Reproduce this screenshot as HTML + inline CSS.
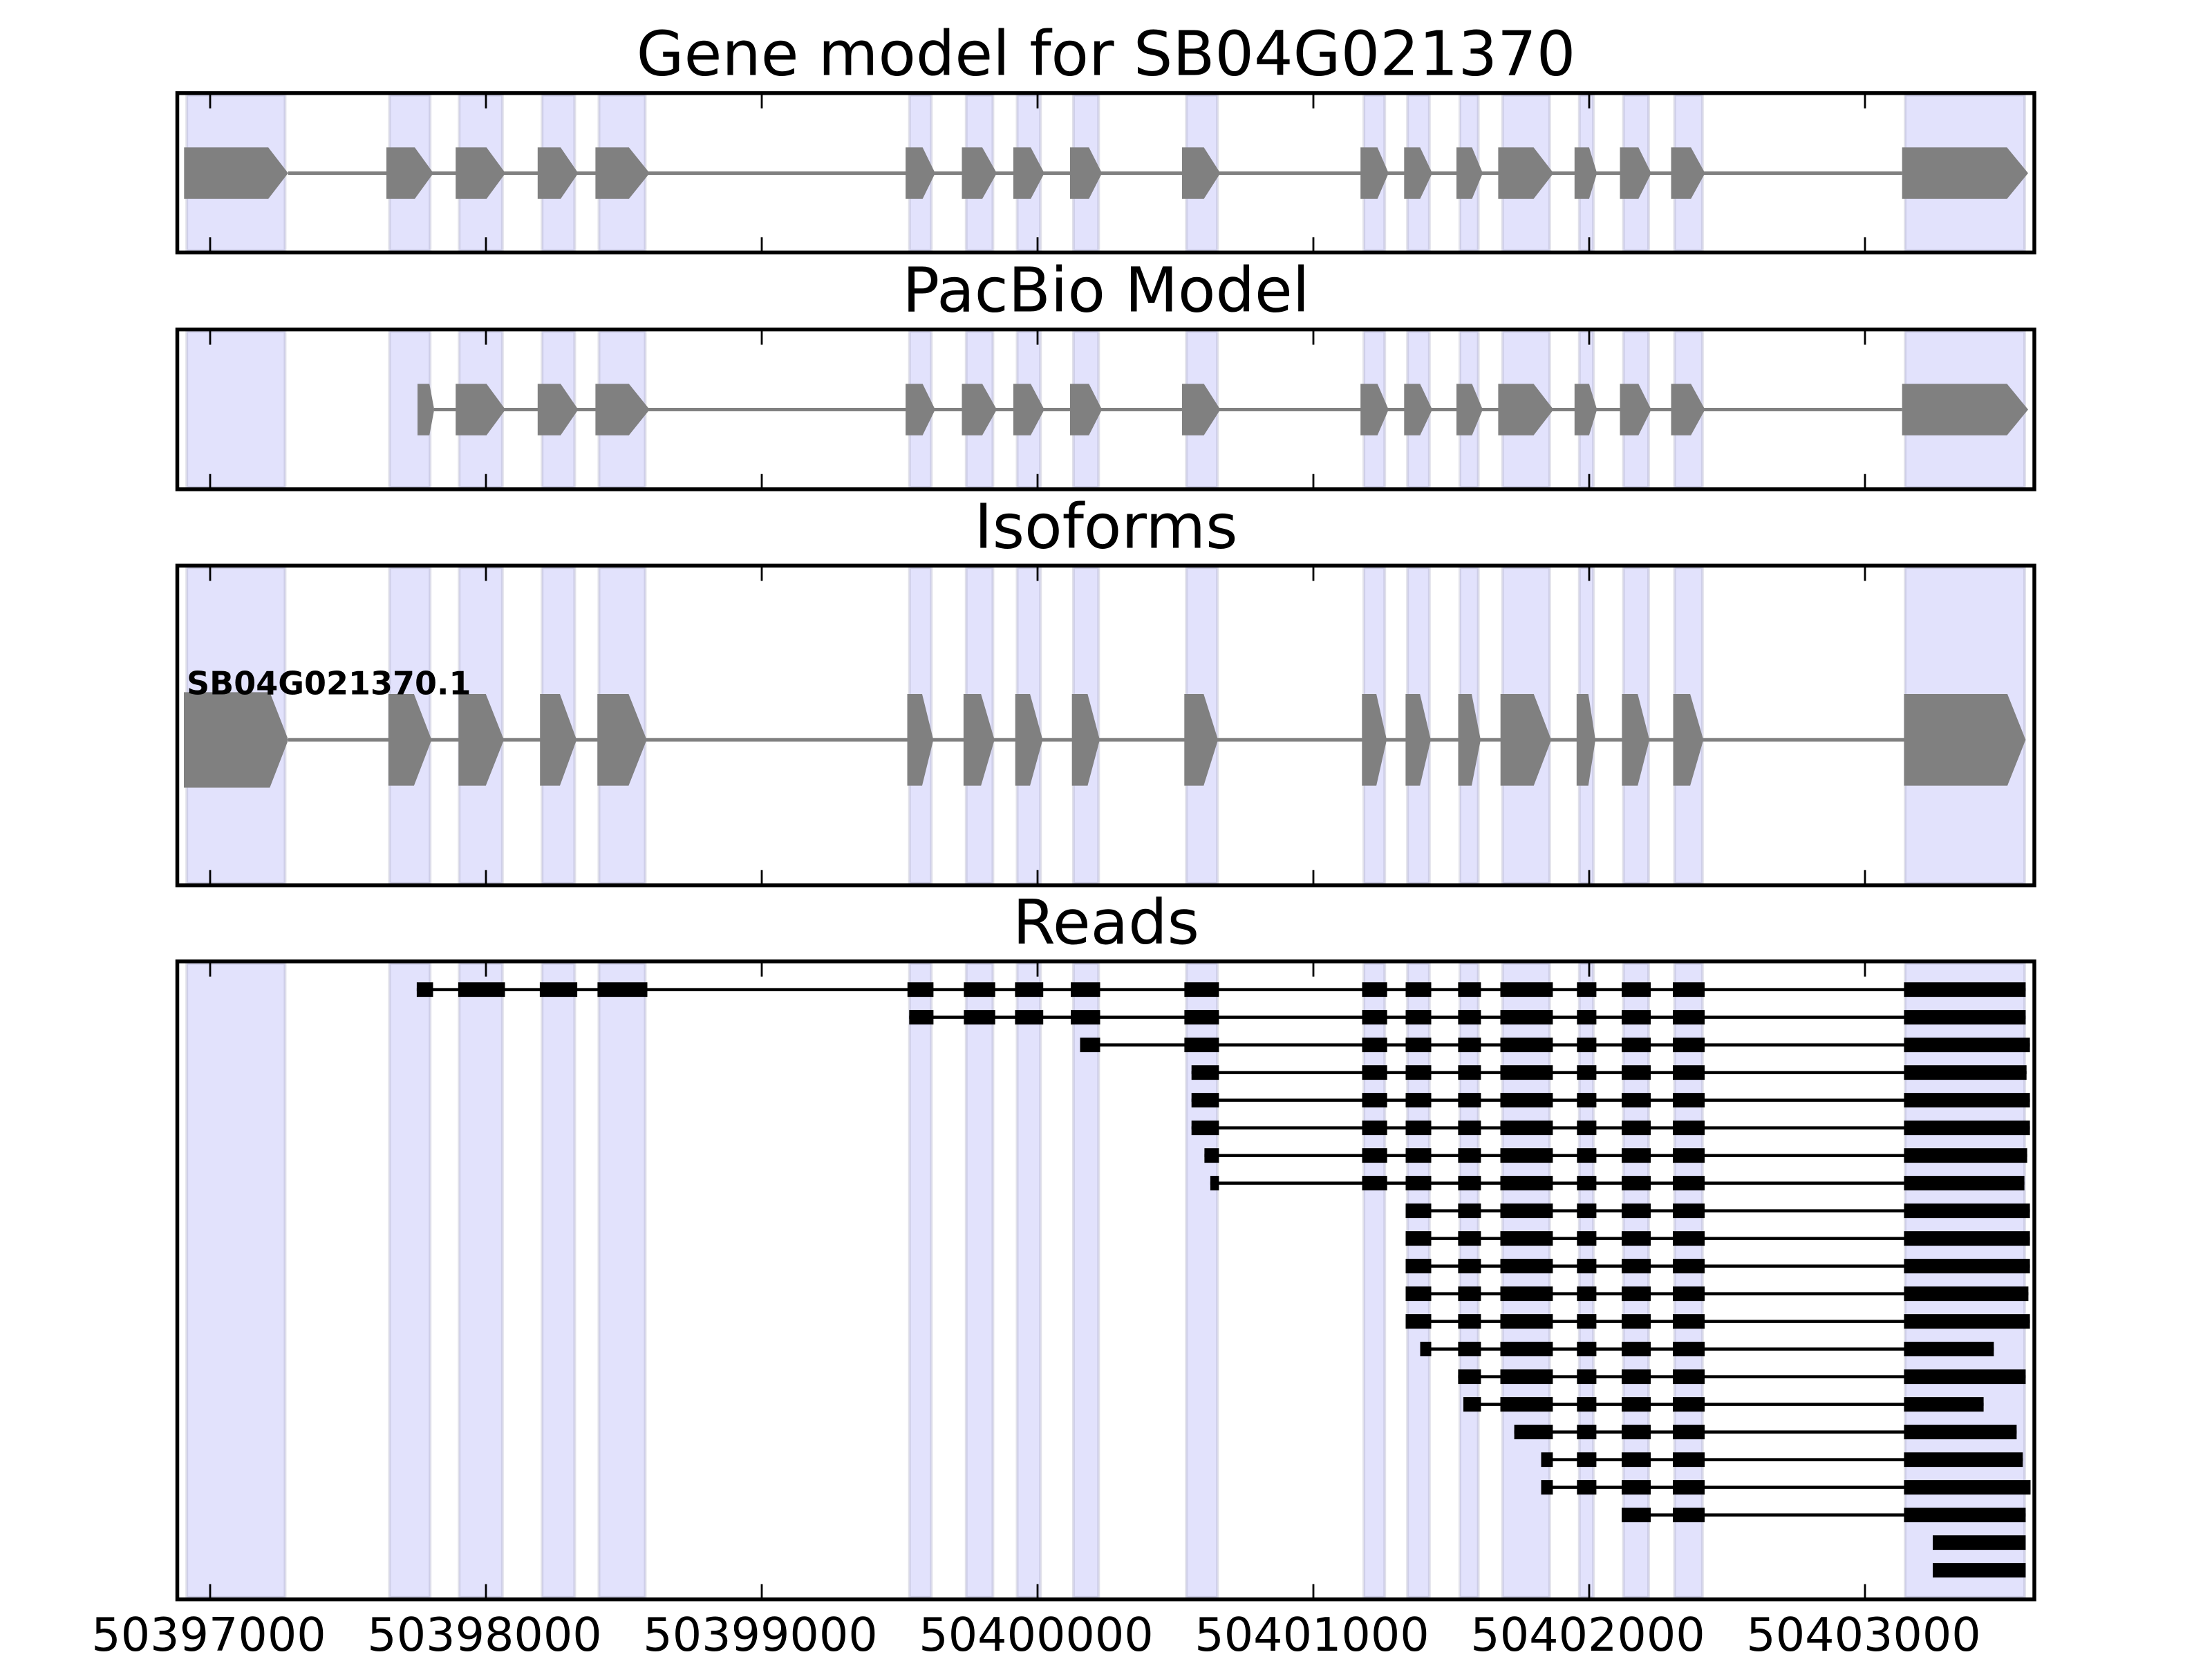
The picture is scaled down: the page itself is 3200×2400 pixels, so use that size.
<!DOCTYPE html>
<html>
<head>
<meta charset="utf-8">
<style>
html,body{margin:0;padding:0;background:#fff;overflow:hidden;}
svg{display:block;}
text{font-family:"DejaVu Sans","Liberation Sans",sans-serif;}
</style>
</head>
<body>
<svg width="3200" height="2400" viewBox="0 0 3200 2400" xmlns="http://www.w3.org/2000/svg">
<defs>
  <g id="sh" fill="#e2e2fc" stroke="rgba(170,170,195,0.35)" stroke-width="4">
    <rect vector-effect="non-scaling-stroke" x="270.2" y="0" width="142.2" height="1"/>
    <rect vector-effect="non-scaling-stroke" x="563.5" y="0" width="58.7" height="1"/>
    <rect vector-effect="non-scaling-stroke" x="664.3" y="0" width="62.5" height="1"/>
    <rect vector-effect="non-scaling-stroke" x="784.2" y="0" width="47.2" height="1"/>
    <rect vector-effect="non-scaling-stroke" x="866.5" y="0" width="66.9" height="1"/>
    <rect vector-effect="non-scaling-stroke" x="1315.7" y="0" width="31.6" height="1"/>
    <rect vector-effect="non-scaling-stroke" x="1397.8" y="0" width="38.6" height="1"/>
    <rect vector-effect="non-scaling-stroke" x="1471.5" y="0" width="33.7" height="1"/>
    <rect vector-effect="non-scaling-stroke" x="1552.9" y="0" width="36.4" height="1"/>
    <rect vector-effect="non-scaling-stroke" x="1716.3" y="0" width="44.9" height="1"/>
    <rect vector-effect="non-scaling-stroke" x="1973.1" y="0" width="30.1" height="1"/>
    <rect vector-effect="non-scaling-stroke" x="2036.2" y="0" width="31.6" height="1"/>
    <rect vector-effect="non-scaling-stroke" x="2112.0" y="0" width="26.6" height="1"/>
    <rect vector-effect="non-scaling-stroke" x="2173.7" y="0" width="68.1" height="1"/>
    <rect vector-effect="non-scaling-stroke" x="2284.8" y="0" width="20.4" height="1"/>
    <rect vector-effect="non-scaling-stroke" x="2348.6" y="0" width="36.4" height="1"/>
    <rect vector-effect="non-scaling-stroke" x="2422.6" y="0" width="40.2" height="1"/>
    <rect vector-effect="non-scaling-stroke" x="2756.1" y="0" width="172.9" height="1"/>
  </g>
  <path id="gm" fill="#808080" d="M659.2,-1H703.8L731.2,0L703.8,1H659.2Z M777.8,-1H811L836.5,0L811,1H777.8Z M861.4,-1H909.8L939.8,0L909.8,1H861.4Z M1310.1,-1H1334.7L1352.9,0L1334.7,1H1310.1Z M1391.5,-1H1421L1442,0L1421,1H1391.5Z M1465.9,-1H1491.1L1510.8,0L1491.1,1H1465.9Z M1548,-1H1575.3L1594.2,0L1575.3,1H1548Z M1710,-1H1741.6L1765.4,0L1741.6,1H1710Z M1968.2,-1H1992.7L2008.8,0L1992.7,1H1968.2Z M2031.3,-1H2054.4L2072,0L2054.4,1H2031.3Z M2107,-1H2129.5L2145,0L2129.5,1H2107Z M2167.4,-1H2218.6L2247.4,0L2218.6,1H2167.4Z M2277.8,-1H2298.9L2310.3,0L2298.9,1H2277.8Z M2343.5,-1H2370.3L2388.8,0L2370.3,1H2343.5Z M2417.5,-1H2446.2L2466.6,0L2446.2,1H2417.5Z M2751.7,-1H2903.4L2934,0L2903.4,1H2751.7Z"/>
  <path id="iso" fill="#808080" d="M561.9,-1H598.9L624.4,0L598.9,1H561.9Z M663.3,-1H702.8L729,0L702.8,1H663.3Z M781.2,-1H810L834.2,0L810,1H781.2Z M864.2,-1H909.4L935.6,0L909.4,1H864.2Z M1312.5,-1H1334L1350.3,0L1334,1H1312.5Z M1393.9,-1H1419.2L1438.7,0L1419.2,1H1393.9Z M1468.7,-1H1490.1L1508.4,0L1490.1,1H1468.7Z M1550.7,-1H1573.4L1591,0L1573.4,1H1550.7Z M1713.3,-1H1741.3L1762.1,0L1741.3,1H1713.3Z M1970.3,-1H1991.1L2006.1,0L1991.1,1H1970.3Z M2033.4,-1H2054.2L2069.9,0L2054.2,1H2033.4Z M2109.5,-1H2129L2142,0L2129,1H2109.5Z M2170.7,-1H2218.8L2244.2,0L2218.8,1H2170.7Z M2280.8,-1H2297.8L2308,0L2297.8,1H2280.8Z M2346.4,-1H2369.2L2386.2,0L2369.2,1H2346.4Z M2420.5,-1H2445.1L2464.3,0L2445.1,1H2420.5Z M2754.5,-1H2904L2930.4,0L2904,1H2754.5Z"/>
  <path id="t16" d="M2346,-10.5h42v21h-42z M2420,-10.5h46v21h-46z"/>
  <g id="t15"><rect x="2281.3" y="-10.5" width="28.1" height="21"/><use href="#t16"/></g>
  <g id="t14"><rect x="2170.5" y="-10.5" width="75.9" height="21"/><use href="#t15"/></g>
  <g id="t13"><rect x="2109.4" y="-10.5" width="33" height="21"/><use href="#t14"/></g>
  <g id="t12"><rect x="2033.5" y="-10.5" width="37" height="21"/><use href="#t13"/></g>
  <g id="t11"><rect x="1970.5" y="-10.5" width="36.2" height="21"/><use href="#t12"/></g>
  <g id="t10"><rect x="1713.4" y="-10.5" width="50" height="21"/><use href="#t11"/></g>
  <g id="t7"><path d="M1394.4,-10.5h45.3v21h-45.3z M1468.4,-10.5h40.8v21h-40.8z M1549,-10.5h42.5v21h-42.5z"/><use href="#t10"/></g>
  <path id="tk" stroke="#000" stroke-width="2.8" fill="none" d="M304,0v22 M703,0v22 M1102,0v22 M1501,0v22 M1900,0v22 M2299,0v22 M2698,0v22"/>
</defs>

<rect width="3200" height="2400" fill="#ffffff"/>

<!-- shading -->
<use href="#sh" transform="translate(0,137.5) scale(1,225)"/>
<use href="#sh" transform="translate(0,479.4) scale(1,225.6)"/>
<use href="#sh" transform="translate(0,821.1) scale(1,456.8)"/>
<use href="#sh" transform="translate(0,1393.6) scale(1,917.3)"/>

<!-- Panel 1 -->
<line x1="416.8" y1="250.5" x2="2751.7" y2="250.5" stroke="#808080" stroke-width="5"/>
<g transform="translate(0,250.5) scale(1,37.3)" fill="#808080">
  <path d="M266.3,-1H388.1L416.8,0L388.1,1H266.3Z M559,-1H600L627,0L600,1H559Z"/>
  <use href="#gm"/>
</g>

<!-- Panel 2 -->
<line x1="628" y1="592.5" x2="2751.7" y2="592.5" stroke="#808080" stroke-width="5"/>
<g transform="translate(0,592.5) scale(1,37.2)" fill="#808080">
  <path d="M604,-1H621.2L628.2,0L621.2,1H604Z"/>
  <use href="#gm"/>
</g>

<!-- Panel 3 -->
<line x1="417" y1="1070.3" x2="2754.5" y2="1070.3" stroke="#808080" stroke-width="5"/>
<polygon fill="#808080" points="266,1001.4 390.3,1001.4 417.1,1070.3 390.3,1139.5 266,1139.5"/>
<use href="#iso" transform="translate(0,1070.3) scale(1,66.35)"/>
<text x="270" y="1004.5" font-size="46" font-weight="bold" fill="#000">SB04G021370.1</text>

<!-- Panel 4: reads -->
<path stroke="#000" stroke-width="4.5" fill="none" d="M602.9,1431.6H2930.4 M1315.3,1471.6H2930.4 M1562.5,1511.6H2936.6 M1723.7,1551.6H2931.7 M1723.7,1591.6H2936.6 M1723.7,1631.6H2936.6 M1742.4,1671.6H2932.6 M1750.9,1711.6H2928.6 M2033.5,1751.6H2936.6 M2033.5,1791.6H2936.6 M2033.5,1831.6H2936.6 M2033.5,1871.6H2934.4 M2033.5,1911.6H2936.6 M2054.5,1951.6H2884.4 M2109.4,1991.6H2930.4 M2117,2031.6H2869.6 M2190.6,2071.6H2917.4 M2229.5,2111.6H2926.3 M2229.5,2151.6H2937.5 M2346,2191.6H2930.4"/>
<g fill="#000">
  <path d="M602.9,1421.1h23.6v21h-23.6z M662.9,1421.1h67.6v21h-67.6z M780.9,1421.1h54.2v21h-54.2z M864.4,1421.1h72.1v21h-72.1z M1312.8,1421.1h37.6v21h-37.6z"/>
  <use href="#t7" y="1431.6"/>
  <rect x="1315.3" y="1461.1" width="35.1" height="21"/>
  <use href="#t7" y="1471.6"/>
  <rect x="1562.5" y="1501.1" width="29" height="21"/>
  <use href="#t10" y="1511.6"/>
  <path d="M1723.7,1541.1h39.7v21h-39.7z M1723.7,1581.1h39.7v21h-39.7z M1723.7,1621.1h39.7v21h-39.7z M1742.4,1661.1h21v21h-21z M1750.9,1701.1h12.5v21h-12.5z"/>
  <use href="#t11" y="1551.6"/>
  <use href="#t11" y="1591.6"/>
  <use href="#t11" y="1631.6"/>
  <use href="#t11" y="1671.6"/>
  <use href="#t11" y="1711.6"/>
  <use href="#t12" y="1751.6"/>
  <use href="#t12" y="1791.6"/>
  <use href="#t12" y="1831.6"/>
  <use href="#t12" y="1871.6"/>
  <use href="#t12" y="1911.6"/>
  <rect x="2054.5" y="1941.1" width="16" height="21"/>
  <use href="#t13" y="1951.6"/>
  <use href="#t13" y="1991.6"/>
  <rect x="2117" y="2021.1" width="25.4" height="21"/>
  <use href="#t14" y="2031.6"/>
  <rect x="2190.6" y="2061.1" width="55.8" height="21"/>
  <use href="#t15" y="2071.6"/>
  <path d="M2229.5,2101.1h16.9v21h-16.9z M2229.5,2141.1h16.9v21h-16.9z"/>
  <use href="#t15" y="2111.6"/>
  <use href="#t15" y="2151.6"/>
  <use href="#t16" y="2191.6"/>
  <path d="M2754.5,1421.1H2930.4v21H2754.5z M2754.5,1461.1H2930.4v21H2754.5z M2754.5,1501.1H2936.6v21H2754.5z M2754.5,1541.1H2931.7v21H2754.5z M2754.5,1581.1H2936.6v21H2754.5z M2754.5,1621.1H2936.6v21H2754.5z M2754.5,1661.1H2932.6v21H2754.5z M2754.5,1701.1H2928.6v21H2754.5z M2754.5,1741.1H2936.6v21H2754.5z M2754.5,1781.1H2936.6v21H2754.5z M2754.5,1821.1H2936.6v21H2754.5z M2754.5,1861.1H2934.4v21H2754.5z M2754.5,1901.1H2936.6v21H2754.5z M2754.5,1941.1H2884.4v21H2754.5z M2754.5,1981.1H2930.4v21H2754.5z M2754.5,2021.1H2869.6v21H2754.5z M2754.5,2061.1H2917.4v21H2754.5z M2754.5,2101.1H2926.3v21H2754.5z M2754.5,2141.1H2937.5v21H2754.5z M2754.5,2181.1H2930.4v21H2754.5z M2796,2221.1H2930.4v21H2796z M2796,2261.1H2930.4v21H2796z"/>
</g>

<!-- frames -->
<g fill="none" stroke="#000" stroke-width="5.5">
  <rect x="256.5" y="134.7" width="2686.5" height="230.6"/>
  <rect x="256.5" y="476.6" width="2686.5" height="231.2"/>
  <rect x="256.5" y="818.3" width="2686.5" height="462.4"/>
  <rect x="256.5" y="1390.8" width="2686.5" height="922.9"/>
</g>

<!-- ticks -->
<use href="#tk" transform="translate(0,134.7)"/>
<use href="#tk" transform="translate(0,476.6)"/>
<use href="#tk" transform="translate(0,818.3)"/>
<use href="#tk" transform="translate(0,1390.8)"/>
<use href="#tk" transform="translate(0,365.3) scale(1,-1)"/>
<use href="#tk" transform="translate(0,707.8) scale(1,-1)"/>
<use href="#tk" transform="translate(0,1280.7) scale(1,-1)"/>
<use href="#tk" transform="translate(0,2313.7) scale(1,-1)"/>

<!-- titles -->
<g font-size="89" fill="#000" text-anchor="middle">
  <text x="1600" y="108.7">Gene model for SB04G021370</text>
  <text x="1600" y="450.6">PacBio Model</text>
  <text x="1600" y="792.3">Isoforms</text>
  <text x="1600" y="1364.8">Reads</text>
</g>

<!-- tick labels -->
<g font-size="66.7" fill="#000" text-anchor="middle">
  <text x="302" y="2388">50397000</text>
  <text x="701" y="2388">50398000</text>
  <text x="1100" y="2388">50399000</text>
  <text x="1499" y="2388">50400000</text>
  <text x="1898" y="2388">50401000</text>
  <text x="2297" y="2388">50402000</text>
  <text x="2696" y="2388">50403000</text>
</g>
</svg>
</body>
</html>
